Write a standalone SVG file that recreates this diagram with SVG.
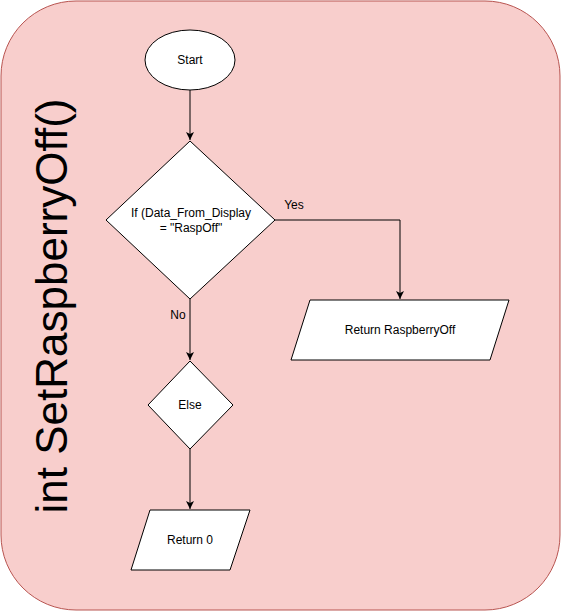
<svg xmlns="http://www.w3.org/2000/svg" width="561" height="611" viewBox="0 0 561 611">
<style>
.n{fill:#fff;stroke:#000;stroke-width:1}
.t{font-family:"Liberation Sans",Arial,sans-serif;font-size:12px;fill:#000;text-anchor:middle;dominant-baseline:central}
.c{fill:none;stroke:#000;stroke-width:1}
</style>
<defs>
<marker id="a" markerWidth="10" markerHeight="10" refX="8" refY="4" orient="auto" markerUnits="userSpaceOnUse">
<path d="M0,0 L8,4 L0,8 L2,4 z" fill="#000"/>
</marker>
</defs>
<g id="container">
<rect x="1" y="1" width="559" height="609" rx="75" ry="75" fill="#f8cecc" stroke="#b85450"/>
<text x="67" y="306" transform="rotate(-90 67 306)" style="font-family:'Liberation Sans',Arial,sans-serif;font-size:44px;fill:#000;text-anchor:middle">int SetRaspberryOff()</text>
</g>
<g id="connectors">
<path class="c" d="M190,90 V140" marker-end="url(#a)"/>
<path class="c" d="M275,220 H400 V299" marker-end="url(#a)"/>
<path class="c" d="M190,299 V360" marker-end="url(#a)"/>
<path class="c" d="M190,449 V509" marker-end="url(#a)"/>
<text class="t" x="294" y="205">Yes</text>
<text class="t" x="178" y="315">No</text>
</g>
<g id="start">
<ellipse class="n" cx="190" cy="60" rx="45" ry="30"/>
<text class="t" x="190" y="60">Start</text>
</g>
<g id="decision">
<path class="n" d="M190,141 L275,220 L190,299 L106,220 Z"/>
<text class="t" x="191" y="213">If (Data_From_Display</text>
<text class="t" x="191" y="228">= "RaspOff"</text>
</g>
<g id="return-raspberryoff">
<path class="n" d="M310,300 H509 L490,360 H291 Z"/>
<text class="t" x="400" y="330">Return RaspberryOff</text>
</g>
<g id="else">
<path class="n" d="M190,361 L233,405 L190,449 L148,405 Z"/>
<text class="t" x="190" y="405">Else</text>
</g>
<g id="return-0">
<path class="n" d="M150,510 H250 L230,570 H131 Z"/>
<text class="t" x="190" y="540">Return 0</text>
</g>
</svg>
